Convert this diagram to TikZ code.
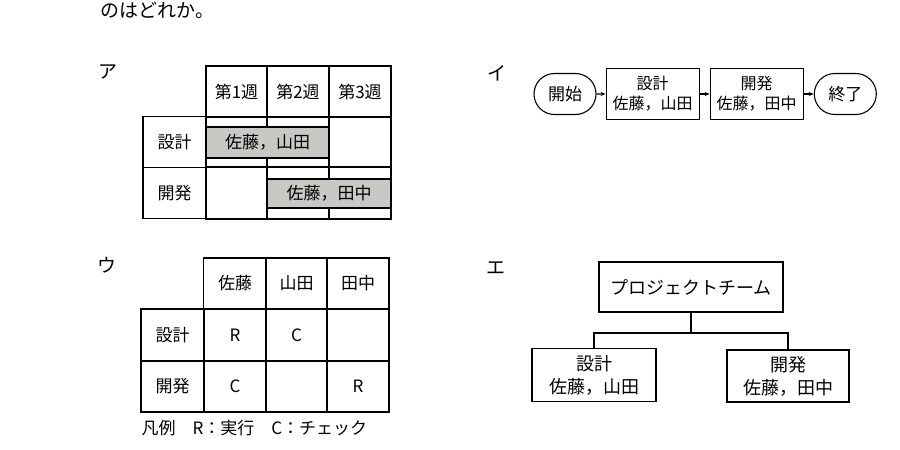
\documentclass[tikz,border=0pt]{standalone}
\usepackage{fontspec}
\setmainfont{Noto Sans CJK JP}
\usetikzlibrary{arrows.meta, positioning, shapes.misc}
\definecolor{bargray}{RGB}{200,200,196}

\begin{document}
\begin{tikzpicture}[x=1pt, y=-1pt, line width=1.1pt, >={Stealth[length=5pt,width=4pt]},
  every node/.style={font=\fontsize{17}{20}\selectfont, inner sep=0pt},
  cell/.style={draw, minimum width=#1, minimum height=51pt},
  bar/.style={draw, fill=bargray, minimum width=#1, minimum height=30pt},
  choice/.style={font=\fontsize{19}{20}\selectfont},
  terminal/.style={draw, rounded rectangle, minimum width=62pt, minimum height=41pt},
  task/.style={draw, align=center, minimum width=93pt, minimum height=51pt,
    font=\fontsize{16}{20}\selectfont},
  unit/.style={draw, align=center, minimum width=123pt, minimum height=52pt,
    font=\fontsize{18}{23}\selectfont}]
\useasboundingbox (0,0) rectangle (900,450);

\node (question) [anchor=base west, font=\fontsize{19}{22}\selectfont] at (100,17) {のはどれか。};

\begin{scope}
  \node (labelA) [choice] at (108,72) {ア};
  \node (wk1) [cell=61pt] at (236.5,91.5) {第1週};
  \node (wk2) [cell=62pt] at (298,91.5) {第2週};
  \node (wk3) [cell=62pt] at (360,91.5) {第3週};
  \node (designA) [cell=63pt] at (174.5,142) {設計};
  \node (devA) [cell=63pt] at (174.5,193) {開発};

  \draw (206,117) rectangle (329,167);
  \draw (267,117) -- (267,127) (267,158) -- (267,167);
  \node (designBar) [bar=123pt, minimum height=31pt] at (267.5,142.5) {佐藤，山田};
  \node (emptyA1) [cell=62pt, minimum height=50pt] at (360,142) {};

  \node (emptyA2) [cell=61pt, minimum height=52pt] at (236.5,193) {};
  \draw (267,167) rectangle (391,219);
  \draw (329,167) -- (329,179) (329,208) -- (329,219);
  \node (devBar) [bar=124pt, minimum height=29pt] at (329,193.5) {佐藤，田中};
\end{scope}

\begin{scope}
  \node (labelB) [choice] at (497,73) {イ};
  \node (start) [terminal] at (565,94) {開始};
  \node (designB) [task, right=9pt of start] {設計\\佐藤，山田};
  \node (devB) [task, right=10pt of designB] {開発\\佐藤，田中};
  \node (finish) [terminal, right=10pt of devB] {終了};

  \draw[->] (start) -- (designB);
  \draw[->] (designB) -- (devB);
  \draw[->] (devB) -- (finish);
\end{scope}

\begin{scope}
  \node (labelC) [choice] at (107,265) {ウ};
  \node (sato) [cell=63pt] at (235,283.5) {佐藤};
  \node (yamada) [cell=61pt] at (296.5,283.5) {山田};
  \node (tanaka) [cell=62pt] at (358,283.5) {田中};
  \node (designC) [cell=63pt, minimum height=52pt] at (172.5,335) {設計};
  \node (devC) [cell=63pt] at (172.5,386.5) {開発};

  \node (c11) [cell=63pt, minimum height=52pt] at (235,335) {R};
  \node (c12) [cell=61pt, minimum height=52pt] at (296.5,335) {C};
  \node (c13) [cell=62pt, minimum height=52pt] at (358,335) {};
  \node (c21) [cell=63pt] at (235,386.5) {C};
  \node (c22) [cell=61pt] at (296.5,386.5) {};
  \node (c23) [cell=62pt] at (358,386.5) {R};

  \node (legend) [anchor=west] at (141,428) {凡例　R：実行　C：チェック};
\end{scope}

\begin{scope}
  \node (labelD) [choice] at (496,268) {エ};
  \node (team) [draw, minimum width=184pt, minimum height=50pt,
    font=\fontsize{18}{22}\selectfont] at (691,287) {プロジェクトチーム};
  \node (designD) [unit, minimum width=124pt, minimum height=53pt] at (594,375) {設計\\佐藤，山田};
  \node (devD) [unit, minimum width=122pt] at (788,376) {開発\\佐藤，田中};
  \coordinate (fork) at (691,333);

  \draw (team.south) -- (fork) -| (designD.north);
  \draw (fork) -| (devD.north);
\end{scope}
\end{tikzpicture}
\end{document}
